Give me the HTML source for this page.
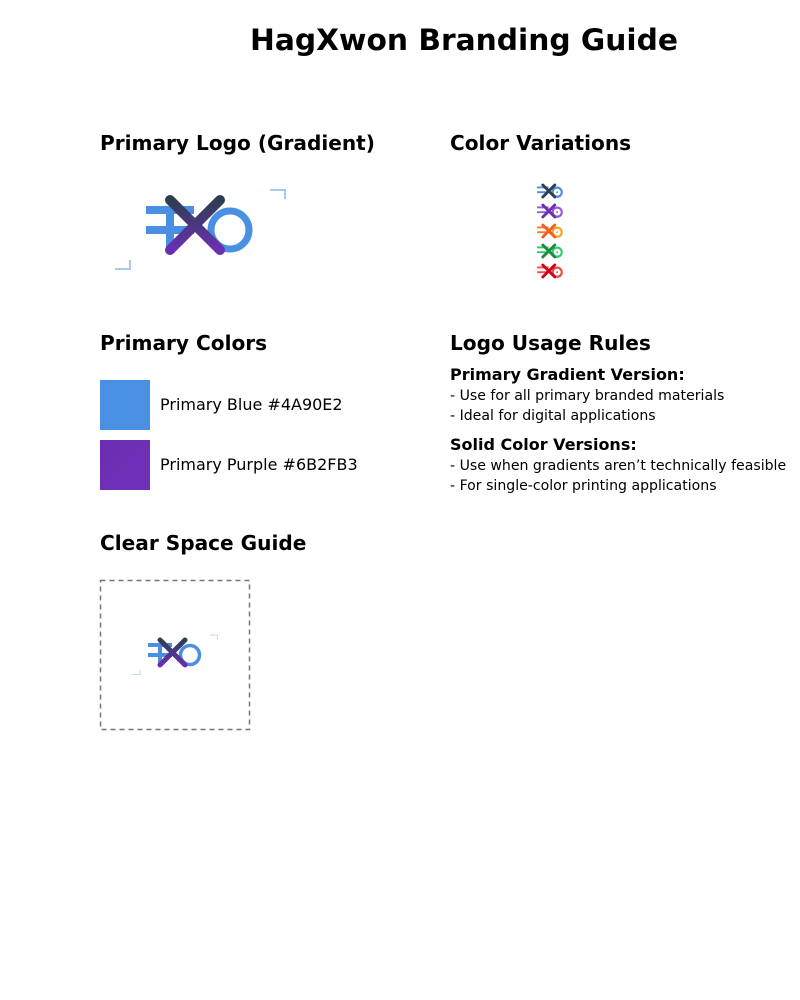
<!DOCTYPE html>
<html><head><meta charset="utf-8"><style>html,body{margin:0;padding:0;background:#fff}svg{display:block}text{font-family:"DejaVu Sans","Liberation Sans",sans-serif}</style></head>
<body>
<svg width="800" height="1000" viewBox="0 0 800 1000">
<defs>
<linearGradient id="xg" x1="0" y1="0" x2="0" y2="1"><stop offset="0" stop-color="#2c3e50"/><stop offset="1" stop-color="#6b2fb3"/></linearGradient>
<linearGradient id="pg" x1="0" y1="0" x2="1" y2="1"><stop offset="0" stop-color="#6b2fb3"/><stop offset="1" stop-color="#7030b8"/></linearGradient>
<g id="logo">
<rect x="146" y="206" width="48" height="8" fill="#4a90e2"/>
<rect x="146" y="226" width="48" height="8" fill="#4a90e2"/>
<rect x="166" y="206" width="8" height="44" fill="#4a90e2"/>
<circle cx="230" cy="230" r="19" fill="none" stroke="#4a90e2" stroke-width="7"/>
<path d="M170 200 L220 250 M220 200 L170 250" stroke="url(#xg)" stroke-width="10" stroke-linecap="round" fill="none"/>
</g>
</defs>
<text x="464" y="50" text-anchor="middle" font-size="29.7" font-weight="bold">HagXwon Branding Guide</text>

<text x="100" y="150" font-size="20.1" font-weight="bold">Primary Logo (Gradient)</text>
<g>
<use href="#logo"/>
<path d="M270 190 H285 V199" stroke="#a9c8ef" stroke-width="2" fill="none"/>
<path d="M115 269 H130 V260" stroke="#a9c8ef" stroke-width="2" fill="none"/>
</g>

<text x="450" y="150" font-size="20.1" font-weight="bold">Color Variations</text>
<g>
<g transform="translate(502,137) scale(0.24)">
<rect x="146" y="206" width="48" height="8" fill="#4a90e2"/><rect x="146" y="226" width="48" height="8" fill="#4a90e2"/>
<circle cx="230" cy="230" r="19" fill="none" stroke="#4a90e2" stroke-width="9"/><circle cx="230" cy="230" r="4" fill="#4a90e2"/>
<path d="M170 200 L220 250 M220 200 L170 250" stroke="#2c3e50" stroke-width="12" stroke-linecap="round"/></g>
<g transform="translate(502,157) scale(0.24)">
<rect x="146" y="206" width="48" height="8" fill="#9b59d6"/><rect x="146" y="226" width="48" height="8" fill="#9b59d6"/>
<circle cx="230" cy="230" r="19" fill="none" stroke="#9b59d6" stroke-width="9"/><circle cx="230" cy="230" r="4" fill="#9b59d6"/>
<path d="M170 200 L220 250 M220 200 L170 250" stroke="#6b2fb3" stroke-width="12" stroke-linecap="round"/></g>
<g transform="translate(502,177) scale(0.24)">
<rect x="146" y="206" width="48" height="8" fill="#ff7a30"/><rect x="146" y="226" width="48" height="8" fill="#ff7a30"/>
<circle cx="230" cy="230" r="19" fill="none" stroke="#f5a623" stroke-width="9"/><circle cx="230" cy="230" r="4" fill="#f5a623"/>
<path d="M170 200 L220 250 M220 200 L170 250" stroke="#f06020" stroke-width="12" stroke-linecap="round"/></g>
<g transform="translate(502,197) scale(0.24)">
<rect x="146" y="206" width="48" height="8" fill="#2ecc71"/><rect x="146" y="226" width="48" height="8" fill="#2ecc71"/>
<circle cx="230" cy="230" r="19" fill="none" stroke="#2ecc71" stroke-width="9"/><circle cx="230" cy="230" r="4" fill="#2ecc71"/>
<path d="M170 200 L220 250 M220 200 L170 250" stroke="#1e8a3e" stroke-width="12" stroke-linecap="round"/></g>
<g transform="translate(502,217) scale(0.24)">
<rect x="146" y="206" width="48" height="8" fill="#ff4d4d"/><rect x="146" y="226" width="48" height="8" fill="#ff4d4d"/>
<circle cx="230" cy="230" r="19" fill="none" stroke="#e74c3c" stroke-width="9"/><circle cx="230" cy="230" r="4" fill="#e74c3c"/>
<path d="M170 200 L220 250 M220 200 L170 250" stroke="#d0021b" stroke-width="12" stroke-linecap="round"/></g>
</g>

<text x="100" y="350" font-size="20.1" font-weight="bold">Primary Colors</text>
<rect x="100" y="380" width="50" height="50" fill="#4a90e2"/>
<text x="160" y="410" font-size="16">Primary Blue #4A90E2</text>
<rect x="100" y="440" width="50" height="50" fill="url(#pg)"/>
<text x="160" y="470" font-size="16">Primary Purple #6B2FB3</text>

<text x="450" y="350" font-size="20.1" font-weight="bold">Logo Usage Rules</text>
<g>
<text x="450" y="380" font-size="16" font-weight="bold">Primary Gradient Version:</text>
<text x="450" y="400" font-size="14.1">- Use for all primary branded materials</text>
<text x="450" y="420" font-size="14.1">- Ideal for digital applications</text>
<text x="450" y="450" font-size="16" font-weight="bold">Solid Color Versions:</text>
<text x="450" y="470" font-size="14.1">- Use when gradients aren’t technically feasible</text>
<text x="450" y="490" font-size="14.1">- For single-color printing applications</text>
</g>

<text x="100" y="550" font-size="20.1" font-weight="bold">Clear Space Guide</text>
<rect x="100.5" y="580.5" width="149" height="149" fill="none" stroke="#777" stroke-width="1.5" stroke-dasharray="5,4"/>
<g transform="translate(75,540) scale(0.5)">
<use href="#logo"/>
<path d="M270 190 H285 V199" stroke="#c4d9f3" stroke-width="2" fill="none"/>
<path d="M115 269 H130 V260" stroke="#c4d9f3" stroke-width="2" fill="none"/>
</g>
</svg>
</body></html>
